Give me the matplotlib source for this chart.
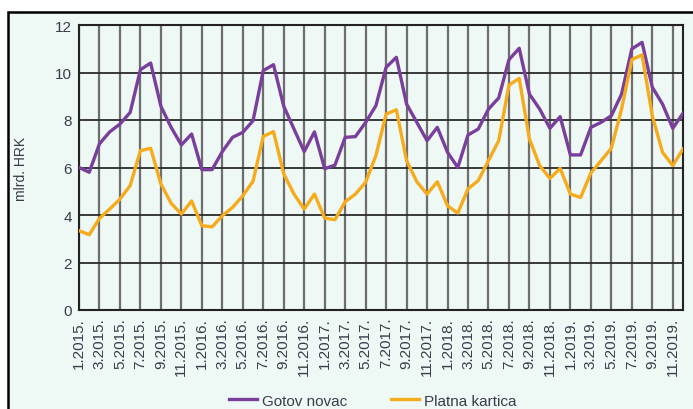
import matplotlib
matplotlib.use("Agg")
import matplotlib.pyplot as plt
from matplotlib.patches import Rectangle

plt.rcParams['font.family'] = ['Liberation Sans', 'DejaVu Sans']

# monthly values, 1.2015 - 12.2019 (mlrd. HRK)
gotov_novac = [6.0, 5.8, 7.0, 7.5, 7.83, 8.32, 10.12, 10.4, 8.58, 7.69, 6.95, 7.41,
               5.91, 5.91, 6.67, 7.27, 7.48, 7.97, 10.08, 10.33, 8.58, 7.62, 6.67, 7.5,
               5.95, 6.1, 7.27, 7.3, 7.9, 8.6, 10.22, 10.64, 8.67, 7.9, 7.13, 7.69,
               6.64, 6.0, 7.37, 7.62, 8.46, 8.93, 10.54, 11.02, 9.09, 8.46, 7.65, 8.14,
               6.53, 6.53, 7.69, 7.9, 8.18, 9.09, 10.99, 11.27, 9.38, 8.67, 7.65, 8.28]
platna_kartica = [3.34, 3.17, 3.86, 4.25, 4.67, 5.24, 6.71, 6.81, 5.31, 4.49, 4.04, 4.59,
                  3.55, 3.5, 3.97, 4.32, 4.81, 5.42, 7.31, 7.51, 5.73, 4.88, 4.25, 4.88,
                  3.87, 3.8, 4.56, 4.88, 5.38, 6.5, 8.25, 8.43, 6.29, 5.4, 4.88, 5.4,
                  4.39, 4.08, 5.1, 5.45, 6.29, 7.13, 9.47, 9.75, 7.2, 6.08, 5.54, 5.96,
                  4.88, 4.74, 5.77, 6.29, 6.81, 8.46, 10.54, 10.74, 8.18, 6.64, 6.08, 6.78]
years = [2015, 2016, 2017, 2018, 2019]
months = ["%d.%d." % (m, y) for y in years for m in range(1, 13)]
yticks = [0, 2, 4, 6, 8, 10, 12]

bg = '#eef8f5'
txt = '#3b3b4a'
c_gotov = '#7a3f9d'
c_kartica = '#f5ab1b'

fig = plt.figure(figsize=(6.93, 4.10), dpi=100)
# boxed panel, open at the right and bottom edges
fig.patches.append(Rectangle((8 / 693, -0.1), 1.2, 1.1 - 13 / 410,
                             transform=fig.transFigure, facecolor=bg,
                             edgecolor='black', lw=1.8, zorder=-1))

ax = fig.add_axes([79 / 693, 1 - 311 / 410, 604 / 693, 285 / 410])
ax.set_facecolor(bg)

x = list(range(len(months)))
ax.plot(x, gotov_novac, color=c_gotov, lw=2.4, label='Gotov novac', zorder=3)
ax.plot(x, platna_kartica, color=c_kartica, lw=2.4, label='Platna kartica', zorder=3)

ax.set_xlim(0, len(months) - 1)
ax.set_ylim(0, 12)
ax.set_yticks(yticks)
ax.set_xticks(x[::2])
ax.set_xticklabels(months[::2], rotation=90)
ax.tick_params(length=0, labelsize=11, labelcolor=txt, pad=5)

ax.grid(axis='y', color='#2b2b2b', lw=1.3, zorder=1)
ax.grid(axis='x', color='#6e6e6e', lw=1.6, zorder=1)
ax.set_axisbelow(True)
for s in ax.spines.values():
    s.set_color('#222222')
    s.set_linewidth(1.5)

ax.set_ylabel('mlrd. HRK', fontsize=10, color=txt)
ax.yaxis.set_label_coords(-0.085, 0.5)

fig.legend(loc='center', bbox_to_anchor=(0.538, 0.02), ncol=2, frameon=False,
           fontsize=11, handlelength=1.8, handletextpad=0.33, columnspacing=2.9,
           labelcolor=txt)

fig.savefig('out.png', dpi=100)
